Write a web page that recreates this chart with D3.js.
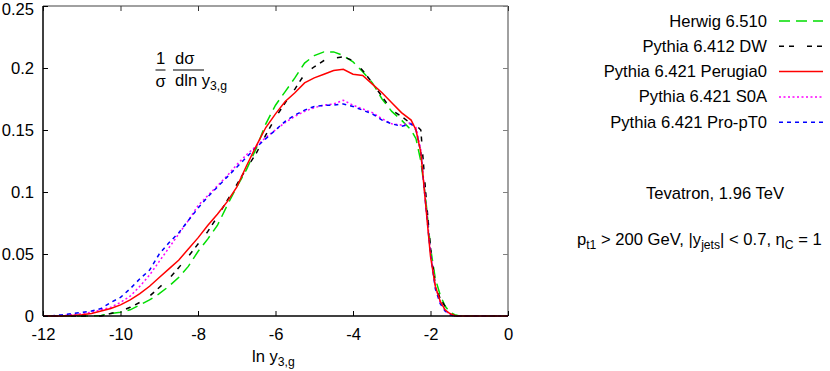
<!DOCTYPE html>
<html>
<head>
<meta charset="utf-8">
<script src="https://cdn.jsdelivr.net/npm/d3@7"></script>
<style>
  body { margin: 0; background: white; }
  text { font-family: "Liberation Sans", Arial, Helvetica, sans-serif; fill: black; }
</style>
</head>
<body>
<script>
// x positions (ln y3,g) shared by all curves
const lnY = [-12, -11.75, -11.5, -11.25, -11, -10.75, -10.5, -10.25, -10, -9.75, -9.5, -9.25, -9, -8.75, -8.5, -8.25,
  -8, -7.75, -7.5, -7.25, -7, -6.75, -6.5, -6.25, -6, -5.75, -5.5, -5.25, -5, -4.75, -4.5, -4.25,
  -4, -3.75, -3.5, -3.25, -3, -2.75, -2.5, -2.375, -2.25, -2.125, -2, -1.875, -1.75, -1.625, -1.5, -1.375,
  -1.25, -1, -0.5, 0];

const herwig = [0, 0, 0, 0, 0, 0, 0.0005, 0.002, 0.003, 0.005, 0.009, 0.013, 0.018, 0.024, 0.031, 0.040,
  0.052, 0.062, 0.073, 0.089, 0.104, 0.118, 0.135, 0.155, 0.170, 0.181, 0.192, 0.204, 0.210, 0.213, 0.213, 0.210,
  0.205, 0.197, 0.188, 0.175, 0.165, 0.158, 0.150, 0.143, 0.125, 0.095, 0.055, 0.030, 0.017, 0.008, 0.003, 0.001,
  0, 0, 0, 0];

const pythiaDW = [0, 0, 0, 0, 0, 0, 0, 0.002, 0.004, 0.007, 0.011, 0.016, 0.023, 0.030, 0.039, 0.048,
  0.058, 0.068, 0.080, 0.093, 0.106, 0.119, 0.131, 0.146, 0.160, 0.172, 0.183, 0.195, 0.201, 0.206, 0.208, 0.209,
  0.206, 0.198, 0.188, 0.177, 0.166, 0.161, 0.155, 0.154, 0.150, 0.100, 0.055, 0.025, 0.014, 0.008, 0.002, 0,
  0, 0, 0, 0];

const perugia0 = [0, 0, 0, 0.0005, 0.001, 0.002, 0.004, 0.006, 0.009, 0.013, 0.018, 0.024, 0.031, 0.038, 0.045, 0.054,
  0.063, 0.073, 0.082, 0.092, 0.104, 0.121, 0.137, 0.152, 0.163, 0.173, 0.180, 0.188, 0.192, 0.195, 0.198, 0.199,
  0.195, 0.194, 0.187, 0.180, 0.172, 0.164, 0.158, 0.150, 0.132, 0.090, 0.048, 0.024, 0.012, 0.005, 0.002, 0.0005,
  0, 0, 0, 0];

const s0a = [0, 0, 0.0005, 0.001, 0.002, 0.003, 0.005, 0.007, 0.011, 0.016, 0.024, 0.033, 0.044, 0.055, 0.066, 0.077,
  0.089, 0.097, 0.105, 0.113, 0.122, 0.130, 0.137, 0.144, 0.150, 0.156, 0.161, 0.165, 0.168, 0.170, 0.171, 0.174,
  0.170, 0.167, 0.164, 0.159, 0.155, 0.154, 0.156, 0.152, 0.134, 0.092, 0.052, 0.024, 0.011, 0.005, 0.001, 0,
  0, 0, 0, 0];

const proPT0 = [0, 0.0003, 0.001, 0.002, 0.003, 0.004, 0.006, 0.011, 0.015, 0.022, 0.030, 0.037, 0.050, 0.059, 0.067, 0.077,
  0.087, 0.096, 0.104, 0.112, 0.120, 0.128, 0.136, 0.143, 0.150, 0.157, 0.162, 0.166, 0.169, 0.170, 0.170, 0.171,
  0.169, 0.166, 0.163, 0.158, 0.155, 0.153, 0.155, 0.150, 0.132, 0.090, 0.050, 0.022, 0.010, 0.004, 0.001, 0,
  0, 0, 0, 0];

const seriesNames = ["Herwig 6.510", "Pythia 6.412 DW", "Pythia 6.421 Perugia0", "Pythia 6.421 S0A", "Pythia 6.421 Pro-pT0"];
const seriesValues = [herwig, pythiaDW, perugia0, s0a, proPT0];
const seriesColors = ["#00dd00", "#000000", "#ff0000", "#ff00ff", "#0000ff"];
const seriesDashes = ["11,6", "5,5,5,13", null, "2,2.5", "4,4"];

const xTicks = [-12, -10, -8, -6, -4, -2, 0];
const yTicks = [0, 0.05, 0.1, 0.15, 0.2, 0.25];
const yTickLabels = ["0", "0.05", "0.1", "0.15", "0.2", "0.25"];

const width = 830, height = 371;
const plotLeft = 43, plotRight = 508, plotTop = 6, plotBottom = 316;
const fontSize = "16.6px", subSize = "12.2px";

const svg = d3.select("body").append("svg")
    .attr("width", width)
    .attr("height", height);

const x = d3.scaleLinear().domain([-12, 0]).range([plotLeft, plotRight]);
const y = d3.scaleLinear().domain([0, 0.25]).range([plotBottom, plotTop]);

//frame: top and right in gray
svg.append("line").attr("x1", plotLeft).attr("x2", plotRight).attr("y1", plotTop).attr("y2", plotTop)
    .attr("stroke", "#808080").attr("stroke-width", 1.5);
svg.append("line").attr("x1", plotRight).attr("x2", plotRight).attr("y1", plotTop).attr("y2", plotBottom)
    .attr("stroke", "#808080").attr("stroke-width", 1.5);

//mirror ticks
svg.append("g").attr("transform", "translate(0," + plotTop + ")")
    .call(d3.axisTop(x).tickValues(xTicks).tickSize(-5).tickFormat(""))
    .call(g => g.select(".domain").remove())
    .call(g => g.selectAll("line").attr("stroke", "#333").attr("stroke-width", 1));
svg.append("g").attr("transform", "translate(" + plotRight + ",0)")
    .call(d3.axisRight(y).tickValues(yTicks).tickSize(-5).tickFormat(""))
    .call(g => g.select(".domain").remove())
    .call(g => g.selectAll("line").attr("stroke", "#808080").attr("stroke-width", 1));

//curves
const line = d3.line()
    .x((d, i) => x(lnY[i]))
    .y(d => y(d));

const order = [0, 1, 3, 4, 2];
order.forEach(k => {
    svg.append("path")
        .datum(seriesValues[k])
        .attr("d", line)
        .attr("fill", "none")
        .attr("stroke", seriesColors[k])
        .attr("stroke-width", 1.5)
        .attr("stroke-dasharray", seriesDashes[k]);
});

//bottom axis
const xAxis = svg.append("g").attr("transform", "translate(0," + plotBottom + ")")
    .call(d3.axisBottom(x).tickValues(xTicks).tickSize(-5).tickPadding(12).tickFormat(d => d));
xAxis.select(".domain").attr("stroke", "black").attr("stroke-width", 1.5).attr("d", "M" + plotLeft + ",0H" + plotRight);
xAxis.selectAll("line").attr("stroke", "black");
xAxis.selectAll("text").style("font-size", fontSize).style("font-family", "'Liberation Sans', Arial, sans-serif");

//left axis
const yAxis = svg.append("g").attr("transform", "translate(" + plotLeft + ",0)")
    .call(d3.axisLeft(y).tickValues(yTicks).tickSize(-5).tickPadding(9).tickFormat((d, i) => yTickLabels[i]));
yAxis.select(".domain").attr("stroke", "black").attr("stroke-width", 1.5).attr("d", "M0," + plotBottom + "V" + plotTop);
yAxis.selectAll("line").attr("stroke", "black");
yAxis.selectAll("text").style("font-size", fontSize).style("font-family", "'Liberation Sans', Arial, sans-serif");
// keep the top label just inside the picture
yAxis.selectAll("text").filter(d => d === 0.25).attr("dy", "0.5em");

//x axis title
const xt = svg.append("text").attr("x", 252).attr("y", 362).style("font-size", fontSize);
xt.append("tspan").text("ln y");
xt.append("tspan").attr("dy", 4).style("font-size", subSize).text("3,g");

//y quantity label
svg.append("text").attr("x", 160.5).attr("y", 64).attr("text-anchor", "middle").style("font-size", fontSize).text("1");
svg.append("line").attr("x1", 155.5).attr("x2", 165.5).attr("y1", 70).attr("y2", 70).attr("stroke", "black").attr("stroke-width", 1);
svg.append("text").attr("x", 160.5).attr("y", 87).attr("text-anchor", "middle").style("font-size", fontSize).text("σ");
svg.append("text").attr("x", 175).attr("y", 64).style("font-size", fontSize).text("dσ");
svg.append("line").attr("x1", 173).attr("x2", 204).attr("y1", 70).attr("y2", 70).attr("stroke", "black").attr("stroke-width", 1);
const yl = svg.append("text").attr("x", 175).attr("y", 86).style("font-size", fontSize);
yl.append("tspan").text("dln y");
yl.append("tspan").attr("dy", 4).style("font-size", subSize).text("3,g");

//legend
const legend = svg.append("g");
seriesNames.forEach((name, i) => {
    const ly = 21 + i * 25.3;
    legend.append("text")
        .attr("x", 767).attr("y", ly + 5.5)
        .attr("text-anchor", "end")
        .style("font-size", fontSize)
        .text(name);
    legend.append("line")
        .attr("x1", 779).attr("x2", 823).attr("y1", ly).attr("y2", ly)
        .attr("stroke", seriesColors[i])
        .attr("stroke-width", 1.5)
        .attr("stroke-dasharray", seriesDashes[i]);
});

//labels on the right
svg.append("text").attr("x", 715).attr("y", 199).attr("text-anchor", "middle")
    .style("font-size", fontSize).text("Tevatron, 1.96 TeV");

const cut = svg.append("text").attr("x", 577).attr("y", 245).style("font-size", fontSize);
cut.append("tspan").text("p");
cut.append("tspan").attr("dy", 4).style("font-size", subSize).text("t1");
cut.append("tspan").attr("dy", -4).text(" > 200 GeV, |y");
cut.append("tspan").attr("dy", 4).style("font-size", subSize).text("jets");
cut.append("tspan").attr("dy", -4).text("| < 0.7, η");
cut.append("tspan").attr("dy", 4).style("font-size", subSize).text("C");
cut.append("tspan").attr("dy", -4).text(" = 1");
</script>
</body>
</html>
